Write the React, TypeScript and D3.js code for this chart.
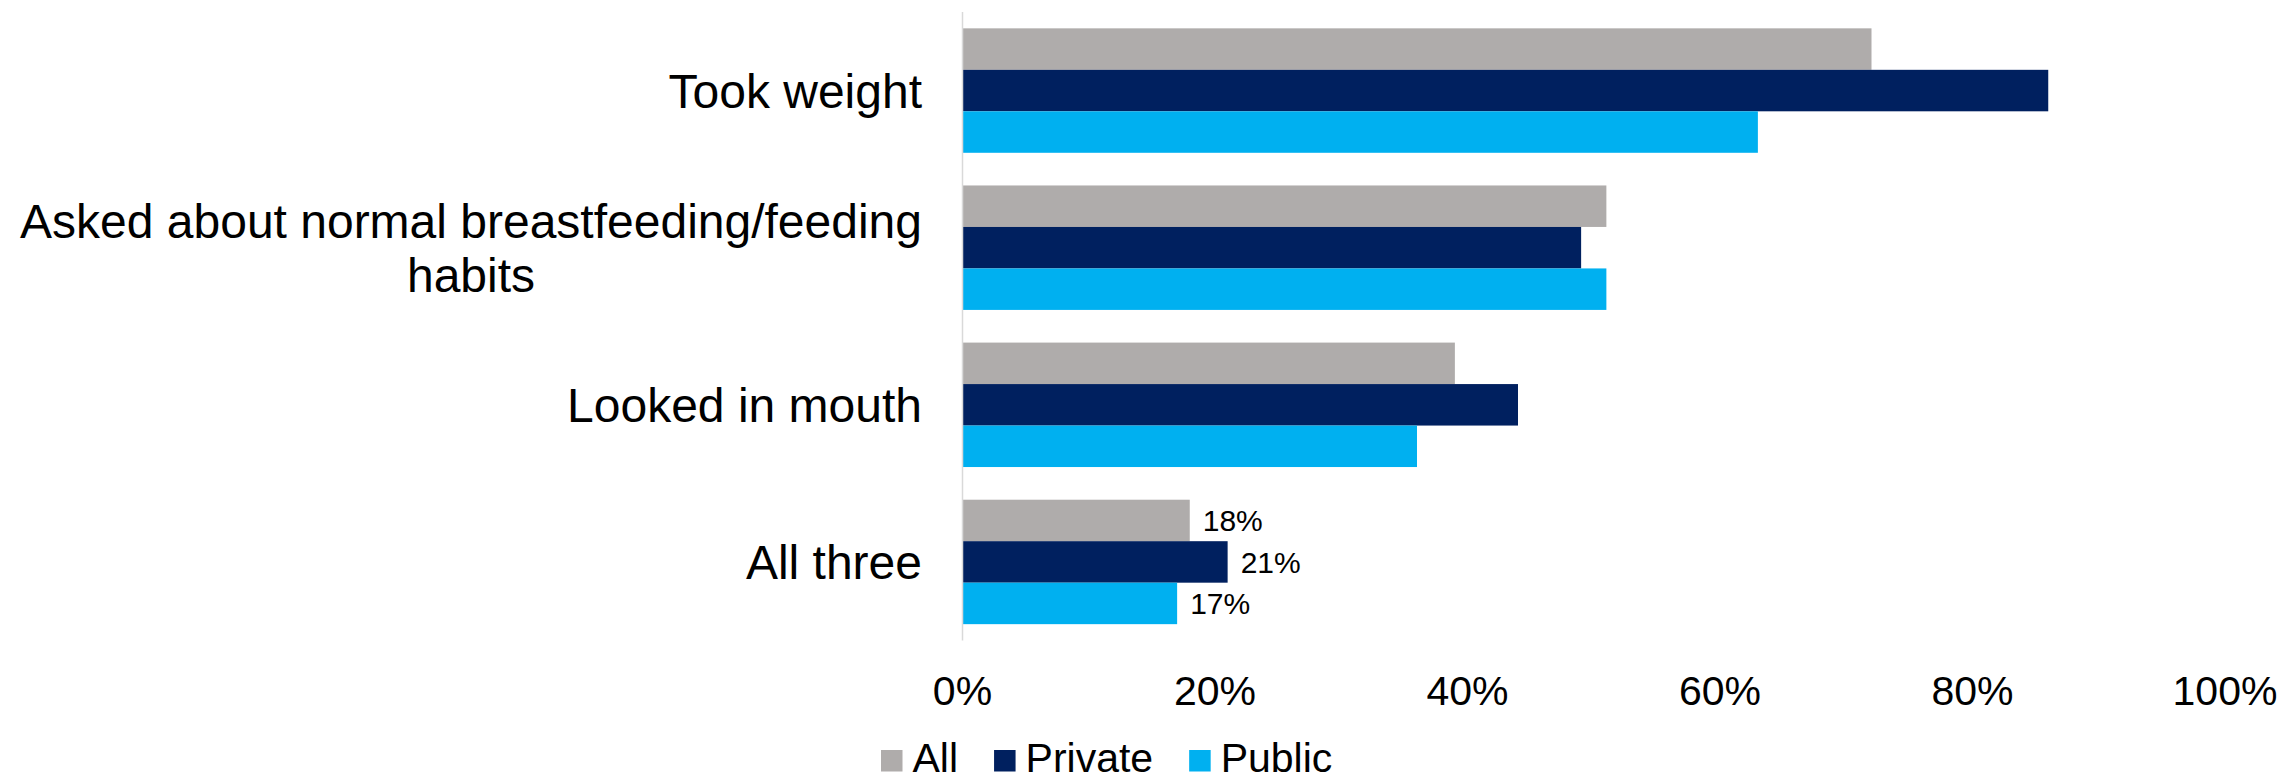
import React from "react";
import * as d3 from "d3";

const categories = ["Took weight", "Asked about normal breastfeeding/feeding|habits", "Looked in mouth", "All three"];
const seriesNames = ["All", "Private", "Public"];
const allValues = [72, 51, 39, 18];
const privateValues = [86, 49, 44, 21];
const publicValues = [63, 51, 36, 17];
const xTicks = [0, 20, 40, 60, 80, 100];
const labelledCategory = "All three";

const colors = ["#AFACAB", "#00205F", "#00B0F0"];
const FONT = "'Liberation Sans', Arial, Helvetica, sans-serif";

const W = 2285;
const H = 780;

function measure(text: string, size: number): number {
  if (typeof document === "undefined") return text.length * size * 0.5;
  const c = document.createElement("canvas");
  const ctx = c.getContext("2d");
  if (!ctx) return text.length * size * 0.5;
  ctx.font = `${size}px ${FONT}`;
  return ctx.measureText(text).width;
}

export default function App() {
  const series = [allValues, privateValues, publicValues];
  const x = d3.scaleLinear().domain([0, 100]).range([962.5, 2225]);
  const y = d3
    .scaleBand<string>()
    .domain(categories)
    .range([12, 640.5])
    .paddingInner(0.208)
    .paddingOuter(0.104);
  const inner = d3
    .scaleBand<string>()
    .domain(seriesNames)
    .range([0, y.bandwidth()]);

  const catFont = 48;
  const catX = 922;
  const lineH = 54;
  const tickFont = 41;
  const dataFont = 30;
  const legFont = 41;

  // legend layout
  const legStart = 881;
  const sq = 21.5;
  let lx = legStart;
  const legendItems = seriesNames.map((name, i) => {
    const item = { name, color: colors[i], x: lx };
    lx += sq + 10 + measure(name, legFont) + 36;
    return item;
  });

  return (
    <svg
      width={W}
      height={H}
      style={{ position: "absolute", left: 0, top: 0, background: "#fff" }}
      fontFamily={FONT}
    >
      <rect x={0} y={0} width={W} height={H} fill="#fff" />
      {/* bars */}
      {categories.map((cat, ci) =>
        seriesNames.map((s, si) => {
          const v = series[si][ci];
          const y0 = (y(cat) ?? 0) + (inner(s) ?? 0);
          return (
            <rect
              key={`${ci}-${si}`}
              x={x(0)}
              y={y0}
              width={x(v) - x(0)}
              height={inner.bandwidth()}
              fill={colors[si]}
            />
          );
        })
      )}
      {/* axis line */}
      <line x1={x(0)} x2={x(0)} y1={12} y2={640.5} stroke="#d9d9d9" strokeWidth={1.5} />
      {/* data labels */}
      {categories.map((cat, ci) =>
        cat === labelledCategory
          ? seriesNames.map((s, si) => {
              const v = series[si][ci];
              const cy = (y(cat) ?? 0) + (inner(s) ?? 0) + inner.bandwidth() / 2;
              return (
                <text
                  key={`l${si}`}
                  x={x(v) + 13}
                  y={cy + dataFont * 0.36}
                  fontSize={dataFont}
                  fill="#000"
                >
                  {`${v}%`}
                </text>
              );
            })
          : null
      )}
      {/* category labels */}
      {categories.map((cat) => {
        const lines = cat.split("|");
        const cy = (y(cat) ?? 0) + y.bandwidth() / 2;
        const firstW = measure(lines[0], catFont);
        const total = (lines.length - 1) * lineH;
        return lines.map((ln, li) => {
          const yy = cy - total / 2 + li * lineH + catFont * 0.36;
          if (li === 0) {
            return (
              <text key={`${cat}-${li}`} x={catX} y={yy} fontSize={catFont} textAnchor="end" fill="#000">
                {ln}
              </text>
            );
          }
          return (
            <text
              key={`${cat}-${li}`}
              x={catX - firstW / 2}
              y={yy}
              fontSize={catFont}
              textAnchor="middle"
              fill="#000"
            >
              {ln}
            </text>
          );
        });
      })}
      {/* x tick labels */}
      {xTicks.map((t) => (
        <text key={t} x={x(t)} y={705} fontSize={tickFont} textAnchor="middle" fill="#000">
          {`${t}%`}
        </text>
      ))}
      {/* legend */}
      {legendItems.map((it) => (
        <g key={it.name}>
          <rect x={it.x} y={750} width={sq} height={sq} fill={it.color} />
          <text x={it.x + sq + 10} y={772} fontSize={legFont} fill="#000">
            {it.name}
          </text>
        </g>
      ))}
    </svg>
  );
}
